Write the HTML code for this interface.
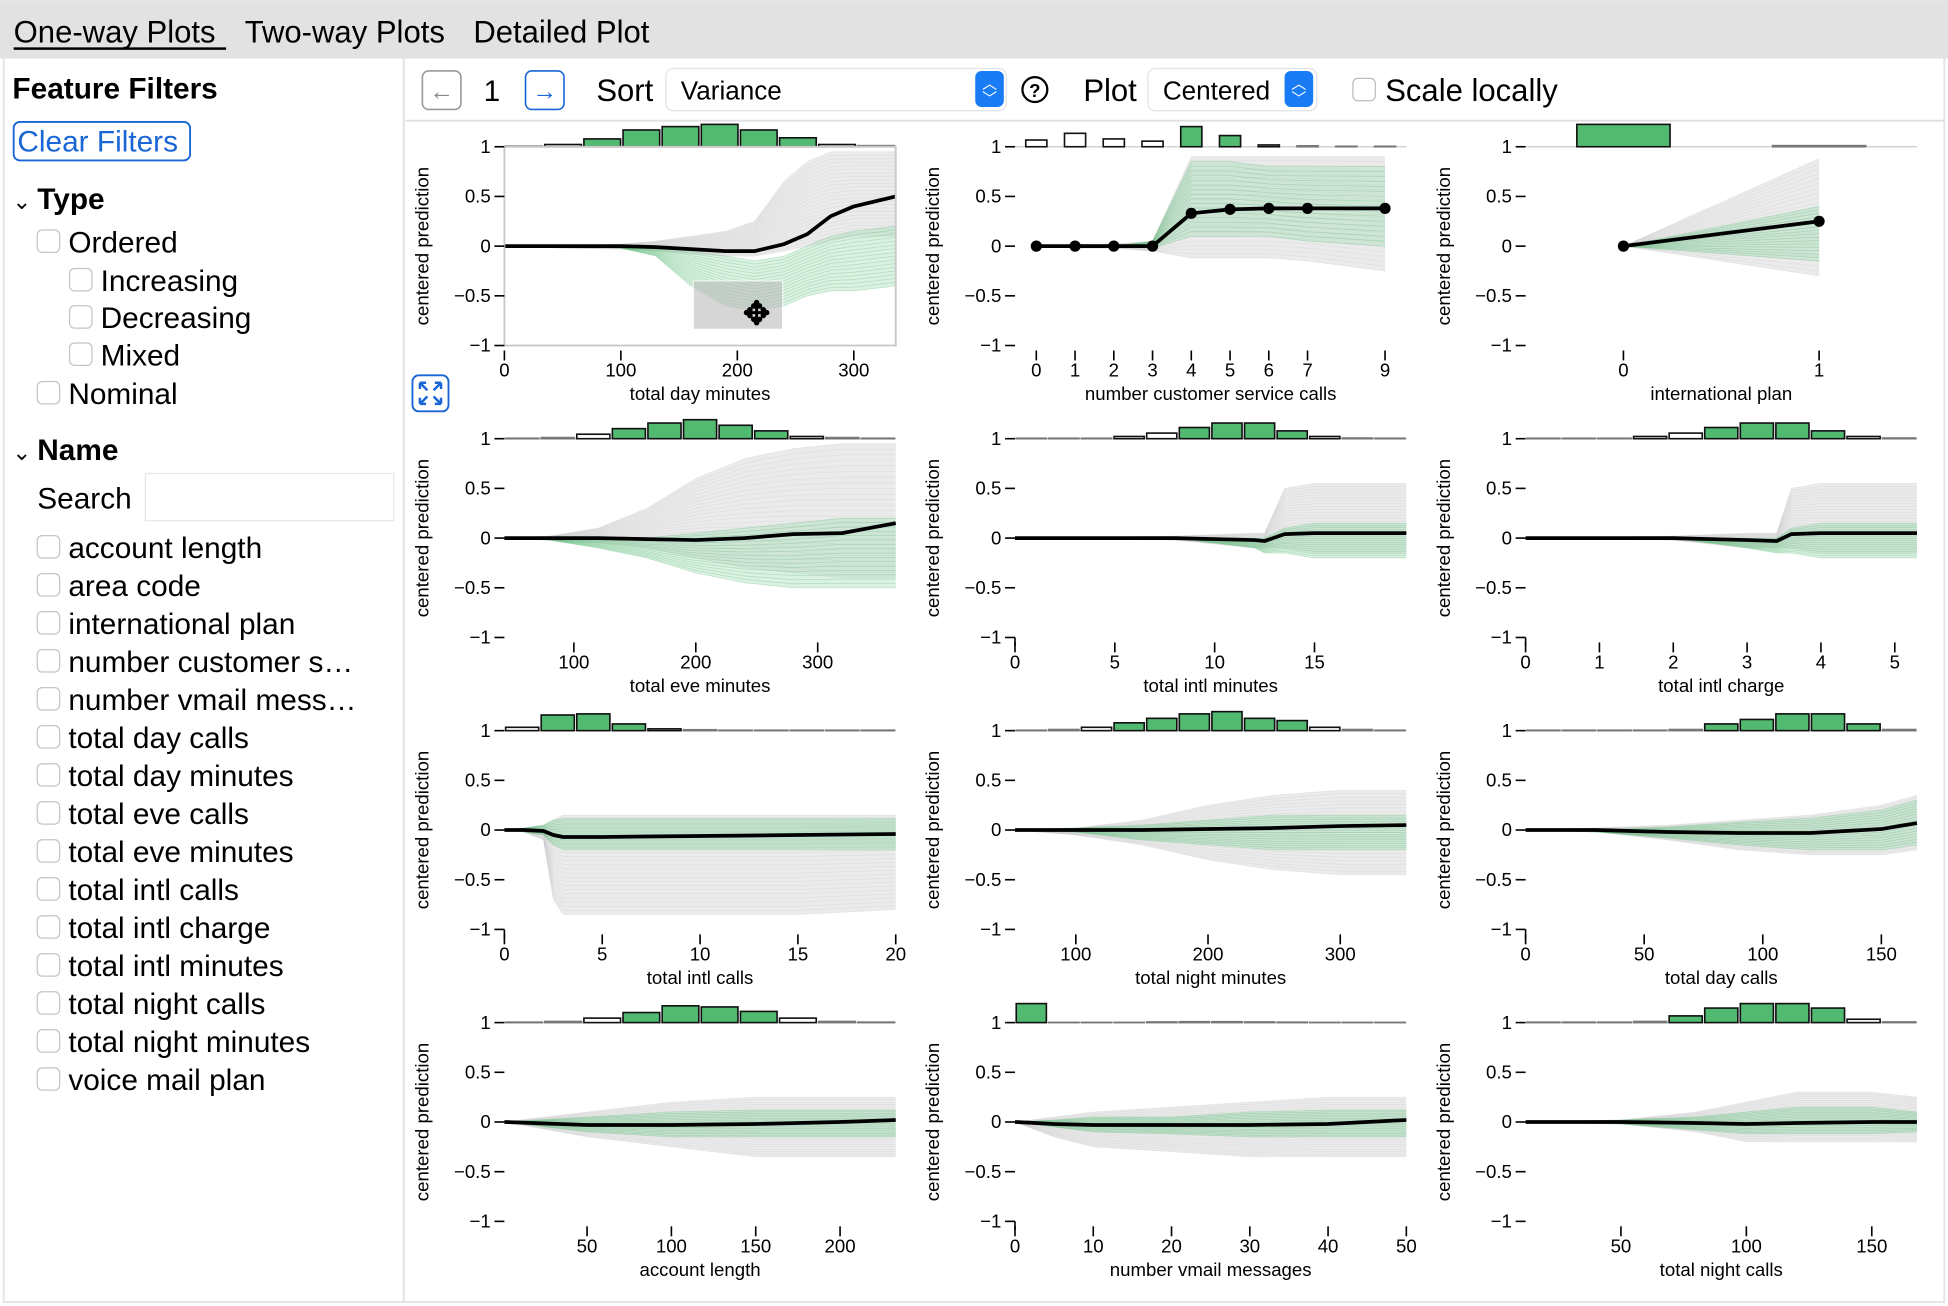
<!DOCTYPE html>
<html><head><meta charset="utf-8"><style>
html,body{margin:0;padding:0;background:#fff;width:1948px;height:1306px;overflow:hidden}
svg{display:block;font-family:"Liberation Sans",Arial,sans-serif}
</style></head><body>
<svg id="root" width="1948" height="1306" viewBox="0 0 1568 1051" xmlns="http://www.w3.org/2000/svg">
<rect x="0" y="0" width="1568" height="1051" fill="#fff"/>
<rect x="3" y="46" width="1562" height="1002" fill="none" stroke="#e4e4e4" stroke-width="1.5"/>
<g>
<rect x="0" y="0" width="1568" height="47" fill="#e2e2e2"/>
<text x="11" y="34" font-size="25" fill="#000">One-way Plots</text>
<rect x="11" y="38" width="171" height="2" fill="#000"/>
<text x="197" y="34" font-size="25" fill="#000">Two-way Plots</text>
<text x="381" y="34" font-size="25" fill="#000">Detailed Plot</text>
</g>
<line x1="325" y1="47" x2="325" y2="1048" stroke="#e0e0e0" stroke-width="1.5"/>
<g id="sidebar">
<text x="10" y="79" font-size="24" font-weight="bold">Feature Filters</text>
<g><rect x="11" y="98" width="142" height="31" rx="5" fill="#fff" stroke="#1a66d6" stroke-width="1.5"/>
<text x="14" y="122" font-size="24" fill="#1a66d6">Clear Filters</text></g>
<text x="10" y="168" font-size="18">⌄</text>
<text x="30" y="168" font-size="24" font-weight="bold">Type</text>
<text x="10" y="370" font-size="18">⌄</text>
<text x="30" y="370" font-size="24" font-weight="bold">Name</text>
<text x="30" y="409" font-size="24">Search</text>
<rect x="117" y="381" width="200" height="38" fill="#fff" stroke="#e6e6e6"/>
</g>
<g id="toolbar">
<line x1="326" y1="97" x2="1565" y2="97" stroke="#e0e0e0" stroke-width="1.5"/>
<g><rect x="340" y="57" width="31" height="31" rx="5" fill="#fff" stroke="#999" stroke-width="1.3"/><text x="355.5" y="80" font-size="20" text-anchor="middle" fill="#888">←</text></g>
<text x="396" y="81" font-size="24" text-anchor="middle">1</text>
<g><rect x="423" y="57" width="31" height="31" rx="5" fill="#fff" stroke="#1a66d6" stroke-width="1.3"/><text x="438.5" y="80" font-size="20" text-anchor="middle" fill="#1a66d6">→</text></g>
<text x="480" y="81" font-size="25">Sort</text>
<g><rect x="536" y="55" width="274" height="34" rx="6" fill="#fff" stroke="#e3e3e3"/>
<text x="548" y="80" font-size="21">Variance</text>
<rect x="785" y="57" width="23" height="29" rx="5" fill="#1a7cf5"/><text x="796.5" y="71" font-size="12" fill="#fff" text-anchor="middle">︿</text><text x="796.5" y="83" font-size="12" fill="#fff" text-anchor="middle">﹀</text></g>
<g><circle cx="833" cy="72" r="10" fill="none" stroke="#000" stroke-width="1.8"/><text x="833" y="78" font-size="15" font-weight="bold" text-anchor="middle">?</text></g>
<text x="872" y="81" font-size="25">Plot</text>
<g><rect x="924" y="55" width="136" height="34" rx="6" fill="#fff" stroke="#e3e3e3"/>
<text x="936" y="80" font-size="21">Centered</text>
<rect x="1034" y="57" width="23" height="29" rx="5" fill="#1a7cf5"/><text x="1045.5" y="71" font-size="12" fill="#fff" text-anchor="middle">︿</text><text x="1045.5" y="83" font-size="12" fill="#fff" text-anchor="middle">﹀</text></g>
<rect x="1089" y="63" width="18" height="18" rx="4" fill="#fff" stroke="#bbb"/>
<text x="1115" y="81" font-size="25">Scale locally</text>
</g>
<g id="charts"></g>
</svg>
<script>
// ---- data per plot ----
const dayMinX=[0,50,100,130,160,190,215,240,260,280,300,336];
const dayMinMean=[0,0,0,-0.01,-0.03,-0.05,-0.05,0.02,0.12,0.3,0.4,0.5];
const dayMinGreyHi=[0,0,0.02,0.05,0.1,0.15,0.25,0.65,0.85,0.95,0.95,0.95];
const dayMinGreyLo=[0,-0.02,-0.03,-0.05,-0.08,-0.1,-0.1,-0.05,0,0.05,0.1,0.1];
const dayMinGreenHi=[0,0,0,0,-0.05,-0.1,-0.15,-0.1,0,0.1,0.15,0.2];
const dayMinGreenLo=[0,0,-0.02,-0.1,-0.4,-0.6,-0.65,-0.6,-0.5,-0.45,-0.45,-0.4];
const dayMinHist=[0.03,0.1,0.35,0.75,0.9,1,0.75,0.4,0.1,0.05];
const dayMinTicks=[0,100,200,300];

const cscX=[0,1,2,3,4,5,6,7,9];
const cscMean=[0,0,0,0,0.33,0.37,0.38,0.38,0.38];
const cscGreyHi=[0,0.02,0.02,0.05,0.9,0.9,0.9,0.9,0.9];
const cscGreyLo=[0,-0.02,-0.02,-0.05,-0.12,-0.12,-0.12,-0.15,-0.25];
const cscGreenHi=[0,0,0,0.05,0.85,0.85,0.8,0.8,0.8];
const cscGreenLo=[0,0,0,-0.02,0.1,0.1,0.1,0.05,0];
const cscHist=[0.3,0.6,0.35,0.25,0.9,0.5,0.08,0.04,0.02,0.02];
const cscTicks=[0,1,2,3,4,5,6,7,9];

const intlPlanX=[0,1];
const intlPlanMean=[0,0.25];
const intlPlanGreyHi=[0,0.88];
const intlPlanGreyLo=[0,-0.3];
const intlPlanGreenHi=[0,0.4];
const intlPlanGreenLo=[0,-0.15];
const intlPlanHist=[1,0.05];
const intlPlanTicks=[0,1];

const eveMinX=[43,80,120,160,200,240,280,320,364];
const eveMinMean=[0,0,0,-0.01,-0.02,0,0.04,0.05,0.15];
const eveMinGreyHi=[0,0.02,0.1,0.3,0.6,0.8,0.9,0.95,0.95];
const eveMinGreyLo=[0,-0.02,-0.05,-0.1,-0.2,-0.3,-0.35,-0.4,-0.4];
const eveMinGreenHi=[0,0,0,0,0.05,0.1,0.15,0.2,0.2];
const eveMinGreenLo=[0,-0.02,-0.1,-0.2,-0.35,-0.45,-0.5,-0.5,-0.5];
const eveMinHist=[0.02,0.05,0.2,0.45,0.7,0.85,0.6,0.35,0.1,0.05,0.02];
const eveMinTicks=[100,200,300];

const intlMinX=[0,4,8,12,12.5,13.5,15,19.6];
const intlMinMean=[0,0,0,-0.02,-0.03,0.04,0.05,0.05];
const intlMinGreyHi=[0,0.01,0.02,0.05,0.05,0.5,0.55,0.55];
const intlMinGreyLo=[0,-0.01,-0.02,-0.1,-0.1,-0.1,-0.15,-0.15];
const intlMinGreenHi=[0,0,0,0,0,0.1,0.15,0.15];
const intlMinGreenLo=[0,0,0,-0.1,-0.15,-0.15,-0.2,-0.2];
const intlMinHist=[0.02,0.02,0.02,0.1,0.25,0.5,0.7,0.7,0.35,0.1,0.03,0.02];
const intlMinTicks=[0,5,10,15];

const intlChgX=[0,1,2,3,3.4,3.6,4,5.3];
const intlChgMean=[0,0,0,-0.02,-0.03,0.04,0.05,0.05];
const intlChgGreyHi=[0,0.01,0.02,0.05,0.05,0.5,0.55,0.55];
const intlChgGreyLo=[0,-0.01,-0.02,-0.1,-0.1,-0.1,-0.15,-0.15];
const intlChgGreenHi=[0,0,0,0,0,0.1,0.15,0.15];
const intlChgGreenLo=[0,0,0,-0.1,-0.15,-0.15,-0.2,-0.2];
const intlChgHist=[0.02,0.02,0.02,0.1,0.25,0.5,0.7,0.7,0.35,0.1,0.03];
const intlChgTicks=[0,1,2,3,4,5];

const intlCallsX=[0,1,2,2.5,3,5,10,15,20];
const intlCallsMean=[0,0,-0.01,-0.05,-0.07,-0.07,-0.06,-0.05,-0.04];
const intlCallsGreyHi=[0,0.02,0.05,0.1,0.15,0.15,0.15,0.15,0.15];
const intlCallsGreyLo=[0,-0.02,-0.1,-0.7,-0.85,-0.85,-0.85,-0.85,-0.8];
const intlCallsGreenHi=[0,0.02,0.05,0.1,0.12,0.12,0.12,0.12,0.12];
const intlCallsGreenLo=[0,-0.02,-0.05,-0.15,-0.2,-0.2,-0.2,-0.2,-0.2];
const intlCallsHist=[0.15,0.7,0.75,0.3,0.08,0.04,0.02,0.02,0.02,0.02,0.02];
const intlCallsTicks=[0,5,10,15,20];

const nightMinX=[54,100,150,200,250,300,350];
const nightMinMean=[0,0,0,0.01,0.02,0.04,0.05];
const nightMinGreyHi=[0,0.02,0.1,0.25,0.35,0.4,0.4];
const nightMinGreyLo=[0,-0.05,-0.15,-0.3,-0.4,-0.45,-0.45];
const nightMinGreenHi=[0,0.02,0.05,0.1,0.15,0.15,0.15];
const nightMinGreenLo=[0,-0.02,-0.1,-0.15,-0.2,-0.2,-0.2];
const nightMinHist=[0.02,0.05,0.15,0.35,0.55,0.75,0.85,0.55,0.45,0.15,0.05,0.02];
const nightMinTicks=[100,200,300];

const dayCallsX=[0,30,60,90,120,150,165];
const dayCallsMean=[0,0,-0.02,-0.03,-0.03,0.01,0.07];
const dayCallsGreyHi=[0,0.02,0.05,0.1,0.15,0.25,0.35];
const dayCallsGreyLo=[0,-0.02,-0.1,-0.2,-0.25,-0.25,-0.2];
const dayCallsGreenHi=[0,0,0.03,0.08,0.12,0.2,0.3];
const dayCallsGreenLo=[0,-0.02,-0.08,-0.15,-0.2,-0.2,-0.15];
const dayCallsHist=[0.02,0.02,0.02,0.02,0.05,0.3,0.5,0.75,0.75,0.3,0.05];
const dayCallsTicks=[0,50,100,150];

const acctLenX=[1,50,100,150,200,233];
const acctLenMean=[0,-0.03,-0.03,-0.02,0,0.02];
const acctLenGreyHi=[0,0.1,0.2,0.25,0.25,0.25];
const acctLenGreyLo=[0,-0.15,-0.25,-0.35,-0.35,-0.35];
const acctLenGreenHi=[0,0.05,0.1,0.12,0.12,0.12];
const acctLenGreenLo=[0,-0.1,-0.15,-0.15,-0.15,-0.15];
const acctLenHist=[0.02,0.05,0.2,0.45,0.75,0.7,0.5,0.2,0.05,0.02];
const acctLenTicks=[50,100,150,200];

const vmailX=[0,5,10,20,30,40,50];
const vmailMean=[0,-0.02,-0.03,-0.03,-0.03,-0.02,0.02];
const vmailGreyHi=[0,0.05,0.1,0.15,0.2,0.25,0.25];
const vmailGreyLo=[0,-0.15,-0.25,-0.3,-0.35,-0.35,-0.35];
const vmailGreenHi=[0,0.02,0.05,0.05,0.1,0.12,0.12];
const vmailGreenLo=[0,-0.05,-0.1,-0.12,-0.15,-0.15,-0.15];
const vmailHist=[0.85,0.01,0.01,0.01,0.03,0.04,0.04,0.03,0.02,0.01,0.01,0.01];
const vmailTicks=[0,10,20,30,40,50];

const nightCallsX=[12,50,80,100,120,150,168];
const nightCallsMean=[0,0,-0.01,-0.02,-0.01,0,0];
const nightCallsGreyHi=[0,0.02,0.1,0.2,0.3,0.3,0.25];
const nightCallsGreyLo=[0,-0.02,-0.1,-0.2,-0.2,-0.2,-0.2];
const nightCallsGreenHi=[0,0.02,0.05,0.1,0.15,0.15,0.1];
const nightCallsGreenLo=[0,-0.02,-0.08,-0.12,-0.12,-0.12,-0.1];
const nightCallsHist=[0.02,0.02,0.02,0.05,0.3,0.65,0.85,0.85,0.65,0.15,0.03];
const nightCallsTicks=[50,100,150];

const typeFilters=["Ordered","Increasing","Decreasing","Mixed","Nominal"];
const nameFilters=["account length","area code","international plan","number customer s…","number vmail mess…","total day calls","total day minutes","total eve calls","total eve minutes","total intl calls","total intl charge","total intl minutes","total night calls","total night minutes","voice mail plan"];

const NS="http://www.w3.org/2000/svg";
function mk(tag,attrs,parent){const e=document.createElementNS(NS,tag);for(const k in attrs)e.setAttribute(k,attrs[k]);if(parent)parent.appendChild(e);return e;}

const side=document.getElementById('sidebar');
typeFilters.forEach((t,i)=>{
  const ys=[195,226,256,286,317][i];const ind=(i>=1&&i<=3)?26:0;
  const cb=mk('rect',{x:30+ind,y:ys-10,width:18,height:18,rx:4,fill:'#fff',stroke:'#c4c4c4'},side);
  
  
  const tx=mk('text',{x:55+ind,y:ys+8,'font-size':24},side);tx.textContent=t;
  
  
});
nameFilters.forEach((t,i)=>{
  const ys=441+i*30.6;
  const cb=mk('rect',{x:30,y:ys-10,width:18,height:18,rx:4,fill:'#fff',stroke:'#c4c4c4'},side);
  
  
  const tx=mk('text',{x:55,y:ys+8,'font-size':24},side);tx.textContent=t;
  
  
});

const plots=[
 {t:"total day minutes",x:dayMinX,m:dayMinMean,gh:dayMinGreyHi,gl:dayMinGreyLo,nh:dayMinGreenHi,nl:dayMinGreenLo,h:dayMinHist,ticks:dayMinTicks,d:[0,336],col:0,row:0,box:true},
 {t:"number customer service calls",x:cscX,m:cscMean,gh:cscGreyHi,gl:cscGreyLo,nh:cscGreenHi,nl:cscGreenLo,h:cscHist,ticks:cscTicks,d:[-0.55,9.55],col:1,row:0,cat:true,hg:[0,0,0,0,1,1,0,0,0,0]},
 {t:"international plan",x:intlPlanX,m:intlPlanMean,gh:intlPlanGreyHi,gl:intlPlanGreyLo,nh:intlPlanGreenHi,nl:intlPlanGreenLo,h:intlPlanHist,ticks:intlPlanTicks,d:[-0.5,1.5],col:2,row:0,cat:true,hg:[1,0],bw:75},
 {t:"total eve minutes",x:eveMinX,m:eveMinMean,gh:eveMinGreyHi,gl:eveMinGreyLo,nh:eveMinGreenHi,nl:eveMinGreenLo,h:eveMinHist,ticks:eveMinTicks,d:[43,364],col:0,row:1},
 {t:"total intl minutes",x:intlMinX,m:intlMinMean,gh:intlMinGreyHi,gl:intlMinGreyLo,nh:intlMinGreenHi,nl:intlMinGreenLo,h:intlMinHist,ticks:intlMinTicks,d:[0,19.6],col:1,row:1,corner:true},
 {t:"total intl charge",x:intlChgX,m:intlChgMean,gh:intlChgGreyHi,gl:intlChgGreyLo,nh:intlChgGreenHi,nl:intlChgGreenLo,h:intlChgHist,ticks:intlChgTicks,d:[0,5.3],col:2,row:1,corner:true},
 {t:"total intl calls",x:intlCallsX,m:intlCallsMean,gh:intlCallsGreyHi,gl:intlCallsGreyLo,nh:intlCallsGreenHi,nl:intlCallsGreenLo,h:intlCallsHist,ticks:intlCallsTicks,d:[0,20],col:0,row:2,corner:true},
 {t:"total night minutes",x:nightMinX,m:nightMinMean,gh:nightMinGreyHi,gl:nightMinGreyLo,nh:nightMinGreenHi,nl:nightMinGreenLo,h:nightMinHist,ticks:nightMinTicks,d:[54,350],col:1,row:2},
 {t:"total day calls",x:dayCallsX,m:dayCallsMean,gh:dayCallsGreyHi,gl:dayCallsGreyLo,nh:dayCallsGreenHi,nl:dayCallsGreenLo,h:dayCallsHist,ticks:dayCallsTicks,d:[0,165],col:2,row:2,corner:true},
 {t:"account length",x:acctLenX,m:acctLenMean,gh:acctLenGreyHi,gl:acctLenGreyLo,nh:acctLenGreenHi,nl:acctLenGreenLo,h:acctLenHist,ticks:acctLenTicks,d:[1,233],col:0,row:3},
 {t:"number vmail messages",x:vmailX,m:vmailMean,gh:vmailGreyHi,gl:vmailGreyLo,nh:vmailGreenHi,nl:vmailGreenLo,h:vmailHist,ticks:vmailTicks,d:[0,50],col:1,row:3,corner:true},
 {t:"total night calls",x:nightCallsX,m:nightCallsMean,gh:nightCallsGreyHi,gl:nightCallsGreyLo,nh:nightCallsGreenHi,nl:nightCallsGreenLo,h:nightCallsHist,ticks:nightCallsTicks,d:[12,168],col:2,row:3}
];
const colX=[406,817,1228], W=315, H=160;
const G=document.getElementById('charts');
plots.forEach((p,pi)=>{
  const x0=colX[p.col], y0=118+235*p.row;
  const g=mk('g',{},G);
  
  
  const sx=v=>x0+(v-p.d[0])/(p.d[1]-p.d[0])*W;
  const sy=v=>y0+(1-v)/2*H;
  const hg=mk('g',{},g);
  
  
  mk('line',{x1:x0,y1:y0,x2:x0+W,y2:y0,stroke:'#ccc','stroke-width':1},hg);
  const n=p.h.length;
  p.h.forEach((v,i)=>{
    let bx,bw;
    if(p.cat){bw=p.bw||17;bx=sx(i)-bw/2;} else {bw=W/n;bx=x0+i*bw+1;bw-=2;}
    const hh=v*18;
    const green=p.hg?p.hg[i]:(v>0.25);
    const r=mk('rect',{x:bx,y:y0-hh,width:bw,height:hh,fill:green?'#52b971':'#fff',stroke:v<0.06?'#777':'#111','stroke-width':1.3},hg);
    
    
  });
  const band=(hi,lo,fill,lineCol,nl,op,lop)=>{
    let d='M'+p.x.map((v,i)=>sx(v)+','+sy(hi[i])).join('L')+'L'+p.x.map((v,i)=>sx(v)+','+sy(lo[i])).reverse().join('L')+'Z';
    const b=mk('path',{d:d,fill:fill,opacity:op},g);
    
    
    for(let k=0;k<=nl;k++){const f=k/nl;
      const ld='M'+p.x.map((v,i)=>sx(v)+','+sy(lo[i]+f*(hi[i]-lo[i]))).join('L');
      const l=mk('path',{d:ld,fill:'none',stroke:lineCol,'stroke-width':0.6,opacity:lop},g);
      
      
    }
  };
  band(p.gh,p.gl,'#e2e2e2','#c4c4c4',24,0.7,0.3);
  band(p.nh,p.nl,'#a6dcb6','#4db36b',16,0.4,0.3);
  const md='M'+p.x.map((v,i)=>sx(v)+','+sy(p.m[i])).join('L');
  const ml=mk('path',{d:md,fill:'none',stroke:'#000','stroke-width':3,'stroke-linejoin':'round'},g);
  
  
  if(p.cat){p.x.forEach((v,i)=>{const c=mk('circle',{cx:sx(v),cy:sy(p.m[i]),r:4.5,fill:'#000'},g);
    
    });}
  if(p.box){mk('rect',{x:x0,y:y0,width:W,height:H,fill:'none',stroke:'#c8c8c8','stroke-width':1.5},g);
    const br=mk('rect',{x:558,y:226,width:72,height:39,fill:'#bbb',opacity:0.6,stroke:'#fff','stroke-width':1},g);
    
    
    const mv=mk('text',{x:609,y:261,'font-size':26,'text-anchor':'middle','font-weight':'bold'},g);mv.textContent='✥';
    const ex=mk('g',{},g);
    
    
    mk('rect',{x:332,y:302,width:29,height:29,rx:5,fill:'#fff',stroke:'#1a66d6','stroke-width':1.5},ex);
    mk('path',{d:'M338 308l6 6M338 308v5M338 308h5M355 308l-6 6M355 308v5M355 308h-5M338 325l6-6M338 325v-5M338 325h5M355 325l-6-6M355 325v-5M355 325h-5',stroke:'#1a66d6','stroke-width':2,fill:'none'},ex);
  }
  const ya=mk('g',{},g);
  
  
  [1,0.5,0,-0.5,-1].forEach(v=>{
    mk('line',{x1:x0-8,y1:sy(v),x2:x0,y2:sy(v),stroke:'#000','stroke-width':1.3},ya);
    const t=mk('text',{x:x0-11,y:sy(v)+5,'font-size':15,'text-anchor':'end'},ya);t.textContent=(v<0?'−':'')+Math.abs(v);
  });
  if(p.corner) mk('line',{x1:x0,y1:y0+H,x2:x0,y2:y0+H+7,stroke:'#000','stroke-width':1.3},ya);
  const yt=mk('text',{x:0,y:0,'font-size':15,'text-anchor':'middle',transform:`translate(${x0-61},${y0+80}) rotate(-90)`},g);yt.textContent='centered prediction';
  
  
  const xa=mk('g',{},g);
  
  
  p.ticks.forEach(v=>{
    mk('line',{x1:sx(v),y1:y0+H+4,x2:sx(v),y2:y0+H+12,stroke:'#000','stroke-width':1.3},xa);
    const t=mk('text',{x:sx(v),y:y0+H+25,'font-size':15,'text-anchor':'middle'},xa);t.textContent=v;
  });
  const xt=mk('text',{x:x0+W/2,y:y0+H+44,'font-size':15,'text-anchor':'middle'},g);xt.textContent=p.t;
  
  
});
</script>
</body></html>
